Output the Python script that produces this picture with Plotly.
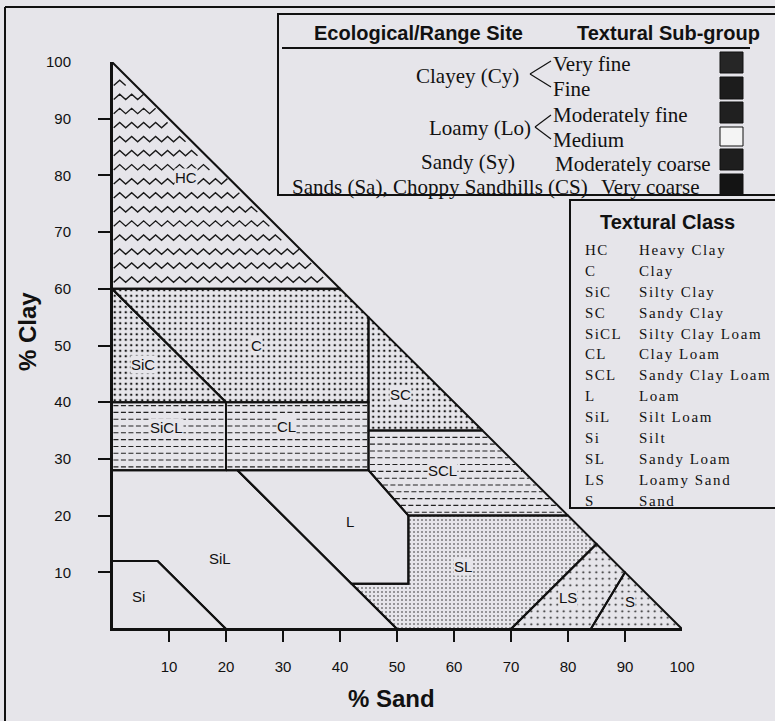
import numpy as np
import plotly.graph_objects as go

BG = "#e6e5ea"
INK = "#111111"

# ---------------- data ----------------
class_codes = ["HC", "C", "SiC", "SC", "SiCL", "CL", "SCL", "L", "SiL", "Si", "SL", "LS", "S"]
class_names = ["Heavy Clay", "Clay", "Silty Clay", "Sandy Clay", "Silty Clay Loam", "Clay Loam",
               "Sandy Clay Loam", "Loam", "Silt Loam", "Silt", "Sandy Loam", "Loamy Sand", "Sand"]

# polygon vertices (% sand, % clay)
sand_vertices = {
    "HC": [0, 0, 40],
    "C": [0, 40, 45, 45, 20],
    "SiC": [0, 20, 0],
    "SC": [45, 45, 65],
    "SiCL": [0, 20, 20, 0],
    "CL": [20, 45, 45, 20],
    "SCL": [45, 65, 80, 52, 45],
    "L": [22, 45, 52, 52, 42],
    "SiL": [0, 22, 50, 20, 8, 0],
    "Si": [0, 0, 8, 20],
    "SL": [42, 52, 52, 80, 85, 70, 50],
    "LS": [70, 85, 90, 84],
    "S": [84, 90, 100],
}
clay_vertices = {
    "HC": [60, 100, 60],
    "C": [60, 60, 55, 40, 40],
    "SiC": [60, 40, 40],
    "SC": [55, 35, 35],
    "SiCL": [28, 28, 40, 40],
    "CL": [28, 28, 40, 40],
    "SCL": [35, 35, 20, 20, 28],
    "L": [28, 28, 20, 8, 8],
    "SiL": [28, 28, 0, 0, 12, 12],
    "Si": [0, 12, 12, 0],
    "SL": [8, 8, 20, 20, 15, 0, 0],
    "LS": [0, 15, 10, 0],
    "S": [0, 10, 0],
}
# label anchor points (% sand, % clay)
label_sand = [13, 25.3, 5.4, 50.7, 9.5, 30.7, 58, 41.8, 19, 4.6, 61.6, 80, 90.9]
label_clay = [79.7, 50, 46.6, 41.3, 35.6, 35.8, 28, 18.9, 12.5, 5.8, 11.1, 5.5, 4.9]

# textural sub-group of each class
subgroup = {"HC": "vfine", "C": "fine", "SiC": "fine", "SC": "fine",
            "SiCL": "mfine", "CL": "mfine", "SCL": "mfine",
            "L": "medium", "SiL": "medium", "Si": "medium",
            "SL": "mcoarse", "LS": "vcoarse", "S": "vcoarse"}

sand_ticks = [10, 20, 30, 40, 50, 60, 70, 80, 90]
sand_labels = [10, 20, 30, 40, 50, 60, 70, 80, 90, 100]
clay_ticks = [10, 20, 30, 40, 50, 60, 70, 80, 90]
clay_labels = [10, 20, 30, 40, 50, 60, 70, 80, 90, 100]

site_names = ["Clayey (Cy)", "Loamy (Lo)", "Sandy (Sy)", "Sands (Sa), Choppy Sandhills (CS)"]
subgroup_names = ["Very fine", "Fine", "Moderately fine", "Medium", "Moderately coarse", "Very coarse"]

# ---------------- helpers ----------------
W, H = 775, 721
ML, MR, MT, MB = 112, 93, 62, 92
PW, PH = W - ML - MR, H - MT - MB


def PX(x):
    return (x - ML) / PW


def PY(y):
    return (H - MB - y) / PH


def closed(code):
    xs = list(sand_vertices[code]) + [sand_vertices[code][0]]
    ys = list(clay_vertices[code]) + [clay_vertices[code][0]]
    return xs, ys


def hsegments(code, step, inset=0.25):
    xs, ys = closed(code)
    lo, hi = min(ys), max(ys)
    rows = np.arange(lo + step / 2, hi, step)
    ox, oy = [], []
    for c in rows:
        pts = []
        for i in range(len(xs) - 1):
            x1, y1, x2, y2 = xs[i], ys[i], xs[i + 1], ys[i + 1]
            if y1 == y2:
                continue
            if (y1 - c) * (y2 - c) <= 0:
                pts.append(x1 + (c - y1) * (x2 - x1) / (y2 - y1))
        if len(pts) >= 2:
            ox += [min(pts) + inset, max(pts) - inset, None]
            oy += [c, c, None]
    return ox, oy


fig = go.Figure()

patterns = {
    "fine": dict(shape=".", size=5.5, solidity=0.16, fgcolor="#1a1a1a"),
    "mcoarse": dict(shape=".", size=4, solidity=0.11, fgcolor="#1a1a1a"),
    "vcoarse": dict(shape=".", size=6.5, solidity=0.08, fgcolor="#1a1a1a"),
}

for code in class_codes:
    g = subgroup[code]
    if g in patterns:
        xs, ys = closed(code)
        fig.add_trace(go.Scatter(x=xs, y=ys, mode="lines", fill="toself",
                                 fillcolor="rgba(0,0,0,0)", fillpattern=patterns[g],
                                 line=dict(width=0), hoverinfo="skip", showlegend=False))

# wavy pattern for heavy clay
hx, hy = [], []
for c in np.arange(61.6, 97.5, 2.48):
    xmax = 100 - c - 0.5
    xs = np.arange(0.3, xmax, 1.05)
    ys = c + 0.47 * np.where(np.arange(len(xs)) % 2 == 0, -1, 1)
    hx += list(xs) + [None]
    hy += list(ys) + [None]
fig.add_trace(go.Scatter(x=hx, y=hy, mode="lines", line=dict(color="#1a1a1a", width=1.4),
                         hoverinfo="skip", showlegend=False))

# dashed pattern for moderately fine
dx, dy = [], []
for code in class_codes:
    if subgroup[code] == "mfine":
        ox, oy = hsegments(code, 1.2)
        dx += ox
        dy += oy
fig.add_trace(go.Scatter(x=dx, y=dy, mode="lines",
                         line=dict(color="#222", width=1.1, dash="5px,2.5px"),
                         hoverinfo="skip", showlegend=False))

# outlines
outx, outy = [], []
for code in class_codes:
    xs, ys = closed(code)
    outx += xs + [None]
    outy += ys + [None]
fig.add_trace(go.Scatter(x=outx, y=outy, mode="lines", line=dict(color=INK, width=2),
                         hoverinfo="skip", showlegend=False))

# dummy trace for label axes
fig.add_trace(go.Scatter(x=[None], y=[None], xaxis="x2", yaxis="y2", showlegend=False))


def note(x, y, text, font, xanchor="center", yanchor="middle", **kw):
    d = dict(x=x, y=y, xref="paper", yref="paper", text=text, showarrow=False,
             xanchor=xanchor, yanchor=yanchor, font=font)
    d.update(kw)
    return d


ann = []
for code, sx, cy in zip(class_codes, label_sand, label_clay):
    ann.append(dict(x=sx, y=cy, xref="x", yref="y", text=code, showarrow=False,
                    xanchor="center", yanchor="middle",
                    font=dict(family="Liberation Sans, Arial", size=15, color=INK),
                    bgcolor=BG, borderpad=0))

TITLE = dict(family="Liberation Sans, Arial", size=24, color=INK)
ann.append(note(PX(391), PY(698), "<b>% Sand</b>", TITLE))
ann.append(note(PX(27), PY(332), "<b>% Clay</b>", TITLE, textangle=-90))

SANS_B = dict(family="Liberation Sans, Arial", size=20, color=INK)
SERIF = dict(family="Liberation Serif, Times New Roman", size=21, color=INK)
SERIF_S = dict(family="Liberation Serif, Times New Roman", size=15, color=INK)

# box 1 headers
ann.append(note(PX(418), PY(33), "<b>Ecological/Range Site</b>", SANS_B))
ann.append(note(PX(668), PY(33), "<b>Textural Sub-group</b>", SANS_B))

site_pos = [(521, 76), (533, 128), (517, 162), (290, 187)]
for i, (name, (px, py)) in enumerate(zip(site_names, site_pos)):
    ann.append(note(PX(px), PY(py), name, SERIF, xanchor="left" if i == 3 else "right"))
sub_pos = [(551, 64), (551, 89), (551, 115), (551, 140), (553, 164), (599, 187)]
for name, (px, py) in zip(subgroup_names, sub_pos):
    ann.append(note(PX(px), PY(py), name, SERIF, xanchor="left"))

# box 2
ann.append(note(PX(667), PY(222), "<b>Textural Class</b>", SANS_B))
for i, (code, name) in enumerate(zip(class_codes, class_names)):
    yy = 250 + i * 20.9
    ann.append(note(PX(583), PY(yy), '<span style="letter-spacing:1.3px">' + code + '</span>',
                    SERIF_S, xanchor="left"))
    ann.append(note(PX(637), PY(yy), '<span style="letter-spacing:1.6px">' + name + '</span>',
                    SERIF_S, xanchor="left"))

shapes = []
LINE = dict(color=INK, width=2)
# outer frame
shapes.append(dict(type="line", xref="paper", yref="paper", x0=PX(5), x1=PX(5), y0=PY(730), y1=PY(7), line=LINE))
shapes.append(dict(type="line", xref="paper", yref="paper", x0=PX(5), x1=PX(790), y0=PY(7), y1=PY(7), line=LINE))
# box 1
shapes.append(dict(type="rect", xref="paper", yref="paper", x0=PX(278), x1=PX(790), y0=PY(195), y1=PY(14),
                   line=LINE, fillcolor=BG, layer="below"))
shapes.append(dict(type="line", xref="paper", yref="paper", x0=PX(282), x1=PX(750), y0=PY(48), y1=PY(48), line=LINE))
# box 2
shapes.append(dict(type="rect", xref="paper", yref="paper", x0=PX(570), x1=PX(790), y0=PY(508), y1=PY(200),
                   line=LINE, fillcolor=BG, layer="below"))
# brackets
BR = dict(color=INK, width=1.2)
for vx, vy, ex, ey1, ey2 in [(530, 74, 551, 61, 87), (535, 127, 551, 115, 139)]:
    shapes.append(dict(type="line", xref="paper", yref="paper", x0=PX(vx), y0=PY(vy), x1=PX(ex), y1=PY(ey1), line=BR))
    shapes.append(dict(type="line", xref="paper", yref="paper", x0=PX(vx), y0=PY(vy), x1=PX(ex), y1=PY(ey2), line=BR))
# swatches
sw_y = [(52, 73), (77, 99), (102, 123), (127, 146), (149, 170), (174, 195)]
sw_fill = ["#262626", "#1c1c1c", "#202020", "#f4f4f4", "#1e1e1e", "#141414"]
for (y0, y1), fc in zip(sw_y, sw_fill):
    shapes.append(dict(type="rect", xref="paper", yref="paper", x0=PX(720), x1=PX(743), y0=PY(y1), y1=PY(y0),
                       fillcolor=fc, line=dict(color=INK, width=1)))

AX = dict(showgrid=False, zeroline=False, fixedrange=True, automargin=False)
TICKF = dict(family="Liberation Sans, Arial", size=15, color=INK)
fig.update_layout(
    template="none",
    width=W, height=H,
    margin=dict(l=ML, r=MR, t=MT, b=MB),
    paper_bgcolor=BG, plot_bgcolor="rgba(0,0,0,0)",
    showlegend=False,
    xaxis=dict(range=[0, 100], tickvals=sand_ticks, ticks="outside", ticklen=11, tickwidth=2,
               tickcolor=INK, showticklabels=False, showline=True, linecolor=INK, linewidth=1.5, **AX),
    yaxis=dict(range=[0, 100], tickvals=clay_ticks, ticks="outside", ticklen=12, tickwidth=2,
               tickcolor=INK, showticklabels=False, showline=True, linecolor=INK, linewidth=1.5, **AX),
    xaxis2=dict(range=[0, 100], overlaying="x", anchor="y2", side="bottom", tickvals=sand_labels,
                ticktext=[str(v) for v in sand_labels], ticks="", showline=False, ticklabelstandoff=27,
                tickfont=TICKF, **AX),
    yaxis2=dict(range=[0, 100], overlaying="y", anchor="x2", side="left", tickvals=clay_labels,
                ticktext=[str(v) for v in clay_labels], ticks="", showline=False, ticklabelstandoff=40,
                tickfont=TICKF, **AX),
    annotations=ann,
    shapes=shapes,
)

fig.write_html("out.html", config={"displayModeBar": False},
               post_script="document.body.style.margin='0';document.body.style.overflow='hidden';")
